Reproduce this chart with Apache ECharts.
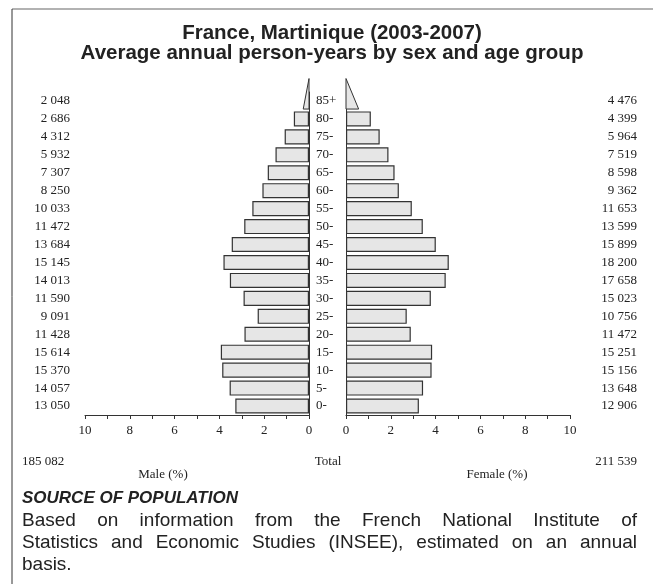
<!DOCTYPE html>
<html>
<head>
<meta charset="utf-8">
<script src="https://cdn.jsdelivr.net/npm/echarts@6/dist/echarts.min.js"></script>
<style>
html, body { margin: 0; padding: 0; background: #fff; }
#chart { width: 653px; height: 584px; }
</style>
</head>
<body>
<div id="chart"></div>
<script>
// data (bottom to top)
var ageGroups = ['0-', '5-', '10-', '15-', '20-', '25-', '30-', '35-', '40-', '45-',
                 '50-', '55-', '60-', '65-', '70-', '75-', '80-', '85+'];
var maleCounts = [13050, 14057, 15370, 15614, 11428, 9091, 11590, 14013, 15145, 13684,
                  11472, 10033, 8250, 7307, 5932, 4312, 2686, 2048];
var femaleCounts = [12906, 13648, 15156, 15251, 11472, 10756, 15023, 17658, 18200, 15899,
                    13599, 11653, 9362, 8598, 7519, 5964, 4399, 4476];
var maleTotal = 185082;
var femaleTotal = 211539;
var axisMax = 10;

var serif = '"Liberation Serif", "Times New Roman", serif';
var sans = '"Liberation Sans", Arial, Helvetica, sans-serif';
var barFill = '#e6e6e6';
var barLine = '#333';

function fmt(n) {
    return String(n).replace(/\B(?=(\d{3})+(?!\d))/g, ' ');
}

var grand = maleTotal + femaleTotal;
var last = ageGroups.length - 1;

function pct(counts) {
    return counts.map(function (c, i) {
        return i === last ? '-' : +(c / grand * 100).toFixed(3);
    });
}

// open-ended group drawn as a wedge
function wedge(params, api) {
    var v = api.value(0), idx = api.value(1);
    var c0 = api.coord([0, idx]);
    var c1 = api.coord([v / 2, idx]);
    var band = api.size([0, 1])[1];
    var baseY = c0[1] + band * 0.45;
    var topY = c0[1] - band * 1.25;
    return {
        type: 'polygon',
        shape: { points: [[c0[0], topY], [c0[0], baseY], [c1[0], baseY]] },
        style: { fill: barFill, stroke: barLine, lineWidth: 1 }
    };
}

var ctx = document.createElement('canvas').getContext('2d');
function justified(text, x0, x1, y, font) {
    ctx.font = font;
    var words = text.split(' ');
    var widths = words.map(function (w) { return ctx.measureText(w).width; });
    var total = widths.reduce(function (s, w) { return s + w; }, 0);
    var gap = (x1 - x0 - total) / (words.length - 1);
    var x = x0, out = [];
    words.forEach(function (w, i) {
        out.push({ type: 'text', x: x, y: y,
                   style: { text: w, font: font, fill: '#222', verticalAlign: 'middle' } });
        x += widths[i] + gap;
    });
    return out;
}

function plainText(text, x, y, font, align) {
    return { type: 'text', x: x, y: y,
             style: { text: text, font: font, fill: '#222', align: align || 'left', verticalAlign: 'middle' } };
}

var xAxisCommon = {
    type: 'value', min: 0, max: axisMax, interval: 1,
    axisLine: { show: true, lineStyle: { color: '#333', width: 1 } },
    axisTick: { show: true, length: 4, lineStyle: { color: '#333' } },
    splitLine: { show: false },
    axisLabel: {
        margin: 9, fontFamily: serif, fontSize: 13, color: '#222',
        formatter: function (v) { return v % 2 === 0 ? v : ''; }
    }
};

var catCommon = {
    type: 'category', data: ageGroups,
    axisTick: { show: false },
    axisLine: { show: false },
    axisLabel: { show: false }
};

var labelFont = '13px ' + serif;
var paraFont = '19px ' + sans;
var titleFont = 'bold 20.5px ' + sans;

var graphics = [
    { type: 'line', shape: { x1: 12, y1: 9, x2: 653, y2: 9 }, style: { stroke: '#999', lineWidth: 1.5 } },
    { type: 'line', shape: { x1: 12, y1: 9, x2: 12, y2: 584 }, style: { stroke: '#333', lineWidth: 1 } },
    plainText('France, Martinique (2003-2007)', 332, 33, titleFont, 'center'),
    plainText('Average annual person-years by sex and age group', 332, 53, titleFont, 'center'),
    plainText(fmt(maleTotal), 22, 462, labelFont),
    plainText('Total', 328, 462, labelFont, 'center'),
    plainText(fmt(femaleTotal), 637, 462, labelFont, 'right'),
    plainText('Male (%)', 163, 475, labelFont, 'center'),
    plainText('Female (%)', 497, 475, labelFont, 'center'),
    plainText('SOURCE OF POPULATION', 22, 498, 'italic bold 17px ' + sans)
].concat(
    justified('Based on information from the French National Institute of', 22, 637, 521, paraFont),
    justified('Statistics and Economic Studies (INSEE), estimated on an annual', 22, 637, 543, paraFont),
    [plainText('basis.', 22, 565, paraFont)]
);

var option = {
    animation: false,
    backgroundColor: '#fff',
    grid: [
        { left: 85, right: 653 - 309, top: 92, bottom: 584 - 415 },
        { left: 346, right: 653 - 570, top: 92, bottom: 584 - 415 }
    ],
    xAxis: [
        Object.assign({}, xAxisCommon, { gridIndex: 0, inverse: true }),
        Object.assign({}, xAxisCommon, { gridIndex: 1 })
    ],
    yAxis: [
        Object.assign({}, catCommon, { gridIndex: 0, position: 'right',
            axisLine: { show: true, lineStyle: { color: '#333', width: 1 } } }),
        Object.assign({}, catCommon, { gridIndex: 0, position: 'left',
            data: maleCounts.map(fmt),
            axisLabel: { show: true, margin: 15, fontFamily: serif, fontSize: 13, color: '#222' } }),
        Object.assign({}, catCommon, { gridIndex: 1, position: 'left',
            axisLine: { show: true, lineStyle: { color: '#333', width: 1 } },
            axisLabel: { show: true, margin: 30, align: 'left', fontFamily: serif, fontSize: 13, color: '#222' } }),
        Object.assign({}, catCommon, { gridIndex: 1, position: 'right',
            data: femaleCounts.map(fmt),
            axisLabel: { show: true, margin: 67, align: 'right', fontFamily: serif, fontSize: 13, color: '#222' } })
    ],
    series: [
        { type: 'bar', name: 'Male', xAxisIndex: 0, yAxisIndex: 0, data: pct(maleCounts),
          barWidth: '84%', itemStyle: { color: barFill, borderColor: barLine, borderWidth: 1.2 } },
        { type: 'bar', name: 'Female', xAxisIndex: 1, yAxisIndex: 2, data: pct(femaleCounts),
          barWidth: '84%', itemStyle: { color: barFill, borderColor: barLine, borderWidth: 1.2 } },
        { type: 'custom', xAxisIndex: 0, yAxisIndex: 0, renderItem: wedge, clip: false,
          data: [[+(maleCounts[last] / grand * 100).toFixed(3), last]] },
        { type: 'custom', xAxisIndex: 1, yAxisIndex: 2, renderItem: wedge, clip: false,
          data: [[+(femaleCounts[last] / grand * 100).toFixed(3), last]] }
    ],
    graphic: graphics
};

var myChart = echarts.init(document.getElementById('chart'));
myChart.setOption(option);
</script>
</body>
</html>
